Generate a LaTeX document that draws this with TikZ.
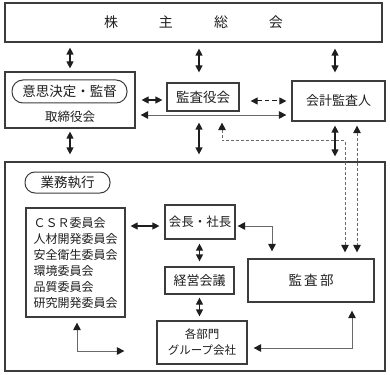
\documentclass[tikz,border=0pt]{standalone}
\usepackage{fontspec}
\setmainfont{Noto Sans CJK JP}
\usetikzlibrary{arrows.meta, positioning, calc}
\definecolor{boxgray}{RGB}{60, 60, 60}
\definecolor{linegray}{RGB}{105, 105, 105}
\definecolor{inkblack}{RGB}{30, 30, 30}

\begin{document}
\begin{tikzpicture}[
  x=1pt, y=-1pt,
  box/.style={draw=boxgray, line width=1.2pt, inner sep=0pt, text=inkblack},
  tag/.style={draw=boxgray, line width=1pt, rounded corners=10pt, inner sep=0pt, text=inkblack},
  dbl/.style={{Triangle[width=7pt,length=7pt]}-{Triangle[width=7pt,length=7pt]}, line width=1.2pt, draw=inkblack},
  gdbl/.style={{Triangle[width=7.5pt,length=7.5pt,color=inkblack]}-{Triangle[width=7.5pt,length=7.5pt,color=inkblack]}, line width=0.9pt, draw=linegray},
  gdash/.style={gdbl, dash pattern=on 3pt off 2pt}
]
  \useasboundingbox (0,0) rectangle (390,374);

  % Top row
  \node[box, minimum width=377pt, minimum height=39pt, font=\fontsize{14}{16}\selectfont] (gm) at (193.5,22.5)
    {株\hspace{41pt}主\hspace{41pt}総\hspace{41pt}会};

  % Second row
  \node[box, minimum width=130pt, minimum height=56pt] (board) at (70,100) {};
  \node[tag, minimum width=115pt, minimum height=23pt, rounded corners=11pt, font=\fontsize{13.5}{15}\selectfont] (decide) at (69.5,91.5) {意思決定・監督};
  \node[font=\fontsize{12.5}{14}\selectfont, text=inkblack] (boardtxt) at (70,117) {取締役会};
  \node[box, minimum width=72pt, minimum height=28pt, font=\fontsize{13.5}{15}\selectfont] (kansayaku) at (203,97) {監査役会};
  \node[box, minimum width=93pt, minimum height=40pt, font=\fontsize{13}{15}\selectfont] (kaikei) at (338.5,101) {会計監査人};

  % Execution block
  \node[box, minimum width=380pt, minimum height=209pt] (exec) at (195,266.5) {};
  \node[tag, minimum width=85pt, minimum height=21pt, font=\fontsize{13.5}{15}\selectfont] (execlbl) at (67.5,182.5) {業務執行};
  \node[box, minimum width=99pt, minimum height=109pt, align=left, font=\fontsize{12}{16}\selectfont] (committees) at (75.5,262.5)
    {ＣＳＲ委員会\\人材開発委員会\\安全衛生委員会\\環境委員会\\品質委員会\\研究開発委員会};
  \node[box, minimum width=70pt, minimum height=34pt, font=\fontsize{12.5}{15}\selectfont] (chair) at (200,222) {会長・社長};
  \node[box, minimum width=69pt, minimum height=27pt, font=\fontsize{13}{15}\selectfont] (mgmt) at (199.5,280.5) {経営会議};
  \node[box, minimum width=90pt, minimum height=43pt, align=center, font=\fontsize{11.5}{16}\selectfont] (depts) at (202,342.5) {各部門\\グループ会社};
  \node[box, minimum width=126pt, minimum height=43pt, font=\fontsize{13.5}{15}\selectfont] (audit) at (311,280.5) {監\,査\,部};

  % Shareholders
  \draw[dbl, shorten <=5pt, shorten >=3pt] (gm.south -| board.north) -- (board.north);
  \draw[dbl, shorten <=6pt, shorten >=10pt] ([xshift=-4pt]gm.south -| kansayaku.north) -- ([xshift=-4pt]kansayaku.north);
  \draw[dbl, shorten <=6pt, shorten >=8pt] ([xshift=-3.5pt]gm.south -| kaikei.north) -- ([xshift=-3.5pt]kaikei.north);

  % Board, auditors
  \draw[dbl, shorten <=6pt, shorten >=4pt] (board.east) -- (board.east -| kansayaku.west);
  \draw[dbl, line width=1pt, dash pattern=on 4.5pt off 3pt, shorten <=11pt, shorten >=5pt] (kaikei.west -| kansayaku.east) -- (kaikei.west);
  \draw[gdbl, shorten <=5pt, shorten >=5pt] ([yshift=-15pt]board.east) -- ([yshift=-15pt]board.east -| kaikei.west);

  % Down to execution
  \draw[dbl, shorten <=3pt, shorten >=7pt] (board.south) -- (board.south |- exec.north);
  \draw[dbl, shorten <=11pt, shorten >=7pt] ([xshift=-4pt]kansayaku.south) -- ([xshift=-4pt]kansayaku.south |- exec.north);
  \draw[dbl, shorten <=4pt, shorten >=5pt] ([xshift=-3.5pt]kaikei.south) -- ([xshift=-3.5pt]kaikei.south |- exec.north);
  \draw[gdash, shorten <=11pt, shorten >=6pt] ([xshift=19pt]kansayaku.south) -- ++(0,29) -| ([xshift=34pt]audit.north);
  \draw[gdash, shorten <=4pt, shorten >=6pt] ([xshift=18.5pt]kaikei.south) -- ([xshift=18.5pt]kaikei.south |- audit.north);

  % Inside execution
  \draw[dbl, shorten <=5pt, shorten >=5pt] ([yshift=-4pt]chair.west -| committees.east) -- ([yshift=-4pt]chair.west);
  \draw[gdbl, shorten <=2pt, shorten >=7pt] ([yshift=-4pt]chair.east) -| ([xshift=-39pt]audit.north);
  \draw[dbl, shorten <=4pt, shorten >=5pt] (chair.south -| mgmt.south) -- (mgmt.north);
  \draw[dbl, shorten <=3pt, shorten >=4pt] (mgmt.south) -- (mgmt.south |- depts.north);
  \draw[gdbl, shorten <=8pt, shorten >=6pt] ([xshift=41pt]audit.south) |- ([yshift=-5.5pt]depts.east);
  \draw[gdbl, shorten <=5pt, shorten >=32pt] ([xshift=1.5pt]committees.south) |- ([yshift=-8.5pt]depts.west);
\end{tikzpicture}
\end{document}
